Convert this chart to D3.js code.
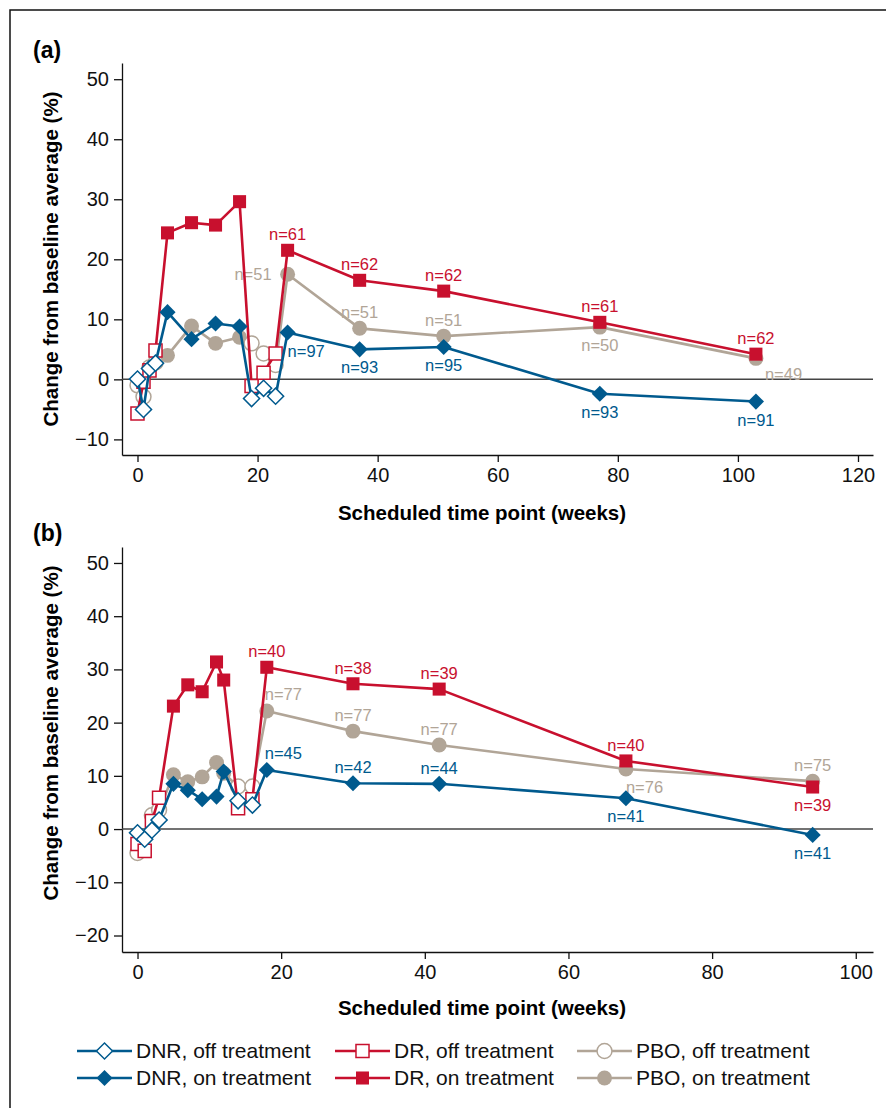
<!DOCTYPE html>
<html>
<head>
<meta charset="utf-8">
<script src="https://cdn.jsdelivr.net/npm/d3@7"></script>
<style>
  body { margin: 0; background: #fff; }
  text { font-family: "Liberation Sans", Arial, Helvetica, sans-serif; }
</style>
</head>
<body>
<svg id="chart" width="886" height="1108"></svg>
<script>
// ---- data ----
// panel (a)
const weeksA = [0, 1, 2, 3, 5, 9, 13, 17, 19, 21, 23, 25, 37, 51, 77, 103];
const onTreatA = [0, 0, 0, 0, 1, 1, 1, 1, 0, 0, 0, 1, 1, 1, 1, 1];
const dnrA = [0.05, -5.0, 1.8, 2.7, 11.2, 6.7, 9.3, 8.8, -3.2, -1.5, -2.8, 7.8, 5.0, 5.4, -2.4, -3.7];
const drA = [-5.7, -0.4, 1.5, 4.8, 24.4, 26.1, 25.7, 29.6, -1.1, 1.1, 4.3, 21.5, 16.5, 14.7, 9.5, 4.2];
const pboA = [-1.0, -2.9, 2.0, 2.8, 4.0, 8.9, 6.0, 7.0, 6.0, 4.3, 2.4, 17.5, 8.5, 7.2, 8.7, 3.5];
// n labels for the last five time points
const dnrNA = [97, 93, 95, 93, 91];
const drNA = [61, 62, 62, 61, 62];
const pboNA = [51, 51, 51, 50, 49];

// panel (b)
const weeksB = [0, 1, 2, 3, 5, 7, 9, 11, 12, 14, 16, 18, 30, 42, 68, 94];
const onTreatB = [0, 0, 0, 0, 1, 1, 1, 1, 1, 0, 0, 1, 1, 1, 1, 1];
const dnrB = [-0.7, -1.9, -0.2, 1.7, 8.5, 7.3, 5.6, 6.1, 10.8, 5.3, 4.5, 11.1, 8.6, 8.5, 5.8, -1.1];
const drB = [-2.8, -4.1, 1.5, 5.9, 23.1, 27.1, 25.8, 31.4, 28.0, 3.9, 5.6, 30.4, 27.3, 26.3, 12.8, 7.9];
const pboB = [-4.5, -1.5, 2.6, 3.6, 10.2, 8.9, 9.8, 12.5, 10.5, 8.0, 8.0, 22.2, 18.4, 15.8, 11.3, 9.0];
const dnrNB = [45, 42, 44, 41, 41];
const drNB = [40, 38, 39, 40, 39];
const pboNB = [77, 77, 77, 76, 75];

const xTicksA = [0, 20, 40, 60, 80, 100, 120];
const xTicksB = [0, 20, 40, 60, 80, 100];
const yTicksA = [-10, 0, 10, 20, 30, 40, 50];
const yTicksB = [-20, -10, 0, 10, 20, 30, 40, 50];

const groups = ['DNR', 'DR', 'PBO'];

// ---- styles ----
const color = { DNR: '#005a8e', DR: '#c8102e', PBO: '#b1a597' };
const shape = {
  DNR: { type: d3.symbolSquare, size: 130, rotate: 45 },
  DR: { type: d3.symbolSquare, size: 170, rotate: 0 },
  PBO: { type: d3.symbolCircle, size: 175, rotate: 0 }
};
// where each n label sits relative to its point
const place = {
  t: { anchor: 'middle', dx: 0, dy: -10 },
  b: { anchor: 'middle', dx: 0, dy: 24 },
  l: { anchor: 'end', dx: -16, dy: 6 },
  br: { anchor: 'start', dx: 0, dy: 24 },
  brr: { anchor: 'start', dx: 9, dy: 22 },
  tr: { anchor: 'start', dx: -2, dy: -11 }
};

const svg = d3.select('#chart');

// frame (top and left edges of the figure box)
svg.append('path')
  .attr('d', 'M10,1108 V10 H886')
  .attr('fill', 'none')
  .attr('stroke', '#111')
  .attr('stroke-width', 1.5);

const drawPanel = (p) => {
  const g = svg.append('g');
  const x = d3.scaleLinear().domain(p.xDomain).range([122, 873]);
  const y = d3.scaleLinear().domain(p.yDomain).range(p.yRange);

  // panel letter
  g.append('text')
    .attr('x', 33).attr('y', p.letterY)
    .attr('font-size', 23).attr('font-weight', 'bold')
    .text(p.letter);

  // axes
  const yAxis = g.append('g')
    .attr('transform', 'translate(122,0)')
    .call(d3.axisLeft(y).tickValues(p.yTicks).tickSize(8).tickSizeOuter(0).tickPadding(5)
      .tickFormat(d => d < 0 ? '\u2212' + Math.abs(d) : d));
  const xAxis = g.append('g')
    .attr('transform', `translate(0,${p.yRange[0]})`)
    .call(d3.axisBottom(x).tickValues(p.xTicks).tickSize(7).tickSizeOuter(0).tickPadding(6));
  [yAxis, xAxis].forEach(a => {
    a.selectAll('path, line').attr('stroke', '#111').attr('stroke-width', 1.3);
    a.selectAll('text').attr('font-size', 20).attr('fill', '#111')
      .style('font-family', '"Liberation Sans", Arial, sans-serif');
  });

  // axis titles
  g.append('text')
    .attr('transform', `translate(58,${p.yTitleY}) rotate(-90)`)
    .attr('text-anchor', 'middle')
    .attr('font-size', 20.5).attr('font-weight', 'bold')
    .text('Change from baseline average (%)');
  g.append('text')
    .attr('x', 482).attr('y', p.xTitleY)
    .attr('text-anchor', 'middle')
    .attr('font-size', 20.5).attr('font-weight', 'bold')
    .text('Scheduled time point (weeks)');

  // zero reference line
  g.append('line')
    .attr('x1', 122).attr('x2', 873)
    .attr('y1', y(0)).attr('y2', y(0))
    .attr('stroke', '#444').attr('stroke-width', 1.5);

  const line = d3.line().x(d => x(d.w)).y(d => y(d.v));

  // draw order: PBO at the back, DNR on top
  ['PBO', 'DR', 'DNR'].forEach(k => {
    const pts = p.weeks.map((w, i) => ({ w, v: p.values[k][i], on: p.on[i] }));
    const c = color[k];
    g.append('path')
      .datum(pts)
      .attr('d', line)
      .attr('fill', 'none')
      .attr('stroke', c)
      .attr('stroke-width', 2.6)
      .attr('stroke-linejoin', 'round');

    const sym = d3.symbol().type(shape[k].type).size(shape[k].size);
    g.selectAll(null)
      .data(pts)
      .enter()
      .append('path')
        .attr('d', sym)
        .attr('transform', d => `translate(${x(d.w)},${y(d.v)}) rotate(${shape[k].rotate})`)
        .attr('fill', d => d.on ? c : '#fff')
        .attr('stroke', d => d.on ? 'none' : c)
        .attr('stroke-width', 1.5);

    // n labels on the last five points
    const last = pts.slice(-5);
    g.selectAll(null)
      .data(last)
      .enter()
      .append('text')
        .attr('x', (d, i) => x(d.w) + place[p.labelPos[k][i]].dx)
        .attr('y', (d, i) => y(d.v) + place[p.labelPos[k][i]].dy)
        .attr('text-anchor', (d, i) => place[p.labelPos[k][i]].anchor)
        .attr('font-size', 16.5)
        .attr('fill', c)
        .text((d, i) => 'n=' + p.n[k][i]);
  });
};

drawPanel({
  letter: '(a)', letterY: 58,
  xDomain: [-2.58, 122.5], yDomain: [-12.6, 52.7], yRange: [455, 63],
  xTicks: xTicksA, yTicks: yTicksA,
  yTitleY: 259, xTitleY: 520,
  weeks: weeksA, on: onTreatA,
  values: { DNR: dnrA, DR: drA, PBO: pboA },
  n: { DNR: dnrNA, DR: drNA, PBO: pboNA },
  labelPos: {
    DNR: ['br', 'b', 'b', 'b', 'b'],
    DR: ['t', 't', 't', 't', 't'],
    PBO: ['l', 't', 't', 'b', 'brr']
  }
});

drawPanel({
  letter: '(b)', letterY: 541,
  xDomain: [-2.16, 102.4], yDomain: [-23.1, 53.0], yRange: [952, 547],
  xTicks: xTicksB, yTicks: yTicksB,
  yTitleY: 733, xTitleY: 1015,
  weeks: weeksB, on: onTreatB,
  values: { DNR: dnrB, DR: drB, PBO: pboB },
  n: { DNR: dnrNB, DR: drNB, PBO: pboNB },
  labelPos: {
    DNR: ['tr', 't', 't', 'b', 'b'],
    DR: ['t', 't', 't', 't', 'b'],
    PBO: ['tr', 't', 't', 'br', 't']
  }
});

// ---- legend ----
const legendCols = { DNR: 77, DR: 335, PBO: 577 };
const legendRows = [{ on: 0, label: 'off treatment', y: 1051 }, { on: 1, label: 'on treatment', y: 1078 }];
const legend = svg.append('g');
legendRows.forEach(r => {
  groups.forEach(k => {
    const x0 = legendCols[k];
    const c = color[k];
    legend.append('line')
      .attr('x1', x0).attr('x2', x0 + 55)
      .attr('y1', r.y).attr('y2', r.y)
      .attr('stroke', c).attr('stroke-width', 2.6);
    legend.append('path')
      .attr('d', d3.symbol().type(shape[k].type).size(shape[k].size)())
      .attr('transform', `translate(${x0 + 27.5},${r.y}) rotate(${shape[k].rotate})`)
      .attr('fill', r.on ? c : '#fff')
      .attr('stroke', r.on ? 'none' : c)
      .attr('stroke-width', 1.5);
    legend.append('text')
      .attr('x', x0 + 59).attr('y', r.y + 7)
      .attr('font-size', 21)
      .attr('fill', '#111')
      .text(`${k}, ${r.label}`);
  });
});
</script>
</body>
</html>
